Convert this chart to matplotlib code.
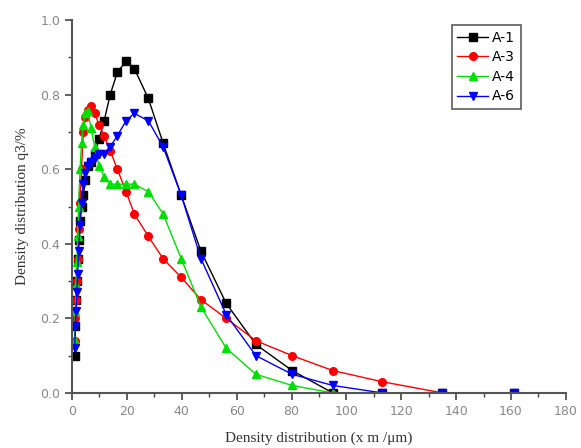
#!/usr/bin/env python3

import matplotlib
matplotlib.use('Agg')
import matplotlib.pyplot as plt
from matplotlib.ticker import MultipleLocator, FormatStrFormatter

# size classes (um)
x = [1.0, 1.2, 1.45, 1.7, 2.05, 2.4, 2.9, 3.45, 4.1, 4.9, 5.8, 6.9, 8.25,
     9.8, 11.7, 13.9, 16.5, 19.7, 22.7, 27.8, 33.2, 39.8, 47, 56.2, 67,
     80.2, 95, 113, 135, 161]

a1 = [0.10, 0.18, 0.25, 0.30, 0.36, 0.41, 0.46, 0.50, 0.53, 0.57, 0.61, 0.62,
      0.64, 0.68, 0.73, 0.80, 0.86, 0.89, 0.87, 0.79, 0.67, 0.53, 0.38, 0.24,
      0.13, 0.06, 0.0, 0.0, 0.0, 0.0]
a3 = [0.14, 0.20, 0.25, 0.30, 0.36, 0.44, 0.51, 0.60, 0.70, 0.74, 0.76, 0.77,
      0.75, 0.72, 0.69, 0.65, 0.60, 0.54, 0.48, 0.42, 0.36, 0.31, 0.25, 0.20,
      0.14, 0.10, 0.06, 0.03, 0.0, 0.0]
a4 = [0.14, 0.22, 0.29, 0.35, 0.42, 0.50, 0.60, 0.67, 0.72, 0.75, 0.755, 0.71,
      0.66, 0.61, 0.58, 0.56, 0.56, 0.56, 0.56, 0.54, 0.48, 0.36, 0.23, 0.12,
      0.05, 0.02, 0.0, 0.0, 0.0, 0.0]
a6 = [0.12, 0.18, 0.22, 0.27, 0.32, 0.38, 0.45, 0.51, 0.56, 0.59, 0.61, 0.62,
      0.63, 0.64, 0.64, 0.66, 0.69, 0.73, 0.75, 0.73, 0.66, 0.53, 0.36, 0.21,
      0.10, 0.05, 0.02, 0.0, 0.0, 0.0]

labels = ['A-1', 'A-3', 'A-4', 'A-6']


def main():
    fig = plt.figure(figsize=(5.81, 4.48), dpi=100)
    ax = fig.add_axes([0.124, 0.123, 0.85, 0.832])

    series = [(a1, 'black', 's'), (a3, 'red', 'o'),
              (a4, '#00e000', '^'), (a6, 'blue', 'v')]
    for (vals, col, mk), lab in zip(series, labels):
        ax.plot(x, vals, color=col, marker=mk, markersize=5.5, linewidth=1,
                label=lab)

    ax.set_xlim(0, 180)
    ax.set_ylim(0, 1.0)
    ax.xaxis.set_major_locator(MultipleLocator(20))
    ax.xaxis.set_minor_locator(MultipleLocator(10))
    ax.yaxis.set_major_locator(MultipleLocator(0.2))
    ax.yaxis.set_minor_locator(MultipleLocator(0.1))
    ax.yaxis.set_major_formatter(FormatStrFormatter('%.1f'))

    for s in ['top', 'right']:
        ax.spines[s].set_visible(False)
    for s in ['left', 'bottom']:
        ax.spines[s].set_color('#555555')
        ax.spines[s].set_linewidth(1.5)
    ax.tick_params(which='major', direction='out', length=5, width=1.2,
                   color='#444444', labelcolor='#888888', labelsize=9)
    ax.tick_params(which='minor', direction='out', length=3, width=1,
                   color='#444444')

    ax.set_xlabel('Density distribution (x m /μm)', family='Liberation Serif',
                  fontsize=11, color='#333333', labelpad=10)
    ax.set_ylabel('Density distribution q3/%', family='Liberation Serif',
                  fontsize=11, color='#333333', labelpad=8)

    leg = ax.legend(loc='upper left', bbox_to_anchor=(0.755, 1.005),
                    fancybox=False, edgecolor='#333333', fontsize=10,
                    handlelength=2.2, borderpad=0.4, labelspacing=0.4,
                    handletextpad=0.3)
    leg.get_frame().set_linewidth(1.2)

    fig.savefig('out.png', dpi=100)


if __name__ == '__main__':
    main()
